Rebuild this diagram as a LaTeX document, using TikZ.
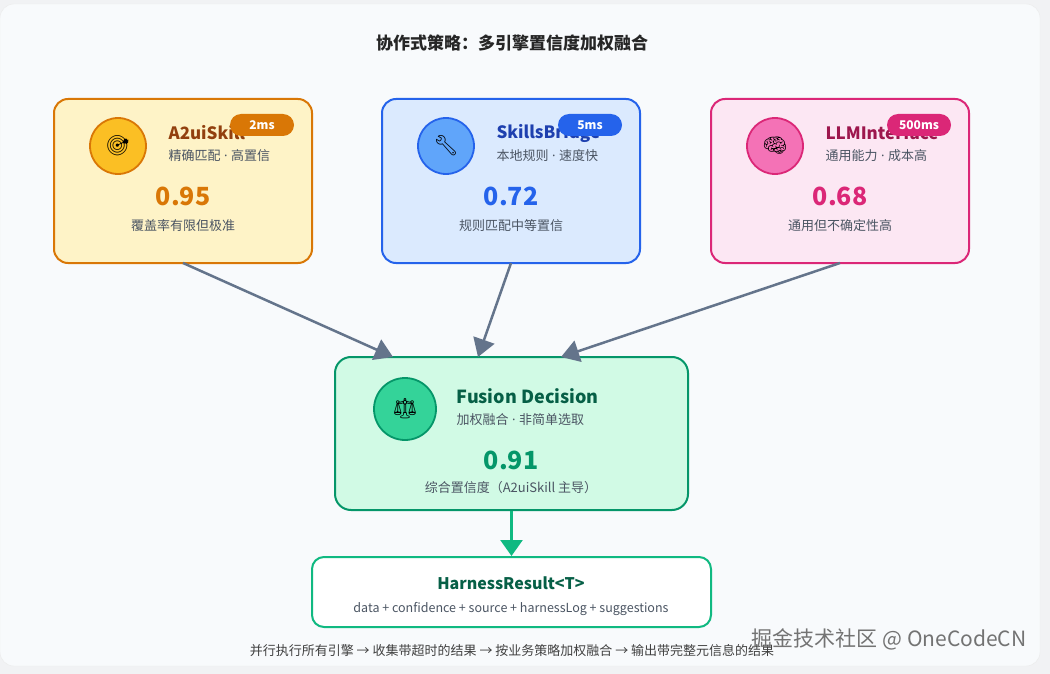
\documentclass[tikz,border=0pt]{standalone}
\usepackage{fontspec}
\setmainfont{Noto Sans CJK SC}
\newfontfamily\emo{Noto Emoji}
\newfontfamily\lat{Noto Sans}
\newcommand{\md}{\hspace{3.5pt}{\lat·}\hspace{3.5pt}}
\usetikzlibrary{arrows.meta}
\definecolor{pagebg}{HTML}{F1F2F4}
\definecolor{cardbg}{HTML}{F8FAFC}
\definecolor{txtgray}{HTML}{4B5563}
\definecolor{arrgray}{HTML}{64748B}
\definecolor{org}{HTML}{D97706}
\definecolor{orgfill}{HTML}{FEF3C7}
\definecolor{orgtxt}{HTML}{92400E}
\definecolor{orgicon}{HTML}{FBBF24}
\definecolor{blu}{HTML}{2563EB}
\definecolor{blufill}{HTML}{DBEAFE}
\definecolor{blutxt}{HTML}{1E40AF}
\definecolor{bluicon}{HTML}{60A5FA}
\definecolor{pnk}{HTML}{DB2777}
\definecolor{pnkfill}{HTML}{FCE7F3}
\definecolor{pnktxt}{HTML}{9D174D}
\definecolor{pnkicon}{HTML}{F472B6}
\definecolor{grn}{HTML}{059669}
\definecolor{grnfill}{HTML}{D1FAE5}
\definecolor{grntxt}{HTML}{065F46}
\definecolor{grnicon}{HTML}{34D399}
\definecolor{grn2}{HTML}{10B981}
\tikzset{
 card/.style={draw,line width=2pt,rounded corners=14pt,minimum width=258pt,minimum height=164pt,inner sep=0pt},
 icon/.style={circle,draw,line width=1.8pt,minimum size=56pt,inner sep=0pt,font=\emo\fontsize{20}{20}\selectfont},
 ttl/.style={anchor=west,font=\bfseries\fontsize{17}{17}\selectfont},
 sub/.style={anchor=west,text=txtgray,font=\fontsize{13}{13}\selectfont},
 val/.style={font=\bfseries\fontsize{25}{25}\selectfont},
 desc/.style={text=txtgray,font=\fontsize{13}{13}\selectfont},
 badge/.style={rounded corners=11pt,minimum width=64pt,minimum height=22pt,inner sep=0pt,text=white,font=\bfseries\fontsize{12}{12}\selectfont},
 flow/.style={draw=arrgray,line width=2.5pt,-{Triangle[length=18pt,width=22pt]}},
}
\begin{document}
\begin{tikzpicture}[x=1pt,y=-1pt]
\useasboundingbox (0,0) rectangle (1050,674);
\fill[pagebg] (0,0) rectangle (1050,674);
\node[draw=black!8,fill=cardbg,rounded corners=14pt,minimum width=1040pt,minimum height=662pt,inner sep=0pt] (bg) at (520,335) {};
\node[font=\bfseries\fontsize{17}{17}\selectfont,text=black!85] (title) at (512,43) {协作式策略：多引擎置信度加权融合};
% box 1
\node[card,draw=org,fill=orgfill] (b1) at (183,181) {};
\node[icon,draw=org,fill=orgicon] (i1) at (118,146) {🎯};
\node[ttl,text=orgtxt] (t1) at (165,133) {A2uiSkill};
\node[badge,fill=org] (g1) at (262,125) {2ms};
\node[sub] (s1) at (165,156) {精确匹配\md 高置信};
\node[val,text=org] (v1) at (183,196) {0.95};
\node[desc] (d1) at (183,226) {覆盖率有限但极准};
% box 2
\node[card,draw=blu,fill=blufill] (b2) at (511,181) {};
\node[icon,draw=blu,fill=bluicon] (i2) at (446,146) {🔧};
\node[ttl,text=blutxt] (t2) at (493,133) {SkillsBridge};
\node[badge,fill=blu] (g2) at (590,125) {5ms};
\node[sub] (s2) at (493,156) {本地规则\md 速度快};
\node[val,text=blu] (v2) at (511,196) {0.72};
\node[desc] (d2) at (511,226) {规则匹配中等置信};
% box 3
\node[card,draw=pnk,fill=pnkfill] (b3) at (840,181) {};
\node[icon,draw=pnk,fill=pnkicon] (i3) at (775,146) {🧠};
\node[ttl,text=pnktxt] (t3) at (822,133) {LLMInterface};
\node[badge,fill=pnk] (g3) at (919,125) {500ms};
\node[sub] (s3) at (822,156) {通用能力\md 成本高};
\node[val,text=pnk] (v3) at (840,196) {0.68};
\node[desc] (d3) at (840,226) {通用但不确定性高};
% fusion
\node[card,draw=grn,fill=grnfill,minimum width=353pt,minimum height=153pt,rounded corners=16pt] (f) at (511.5,433.5) {};
\node[icon,draw=grn,fill=grnicon,minimum size=62pt] (fi) at (405,409) {⚖};
\node[ttl,text=grntxt,font=\bfseries\fontsize{18}{18}\selectfont] (ft) at (453,396) {Fusion Decision};
\node[sub] (fs) at (453,420) {加权融合\md 非简单选取};
\node[val,text=grn] (fv) at (511,460) {0.91};
\node[desc] (fd) at (511,488) {综合置信度（A2uiSkill 主导）};
% result
\node[draw=grn2,line width=2pt,fill=white,rounded corners=12pt,minimum width=399pt,minimum height=70pt,inner sep=0pt] (r) at (511.5,592) {};
\node[font=\bfseries\fontsize{16}{16}\selectfont,text=grntxt] (rt) at (511,583) {HarnessResult<T>};
\node[desc,font=\fontsize{12.5}{12.5}\selectfont] (rs) at (511,609) {data + confidence + source + harnessLog + suggestions};
% arrows
\coordinate (a1) at (183,263); \coordinate (e1) at (393,357);
\coordinate (a2) at (511,263); \coordinate (e2) at (478,357);
\coordinate (a3) at (840,263); \coordinate (e3) at (561,357);
\draw[flow] (a1) -- (e1);
\draw[flow] (a2) -- (e2);
\draw[flow] (a3) -- (e3);
\draw[draw=grn2,line width=2.5pt,-{Triangle[length=16pt,width=22pt]}] (f.south) -- (r.north);
\node[text=black!75,font=\fontsize{13}{13}\selectfont] (foot) at (512,651) {并行执行所有引擎 → 收集带超时的结果 → 按业务策略加权融合 → 输出带完整元信息的结果};
\node[text=black!55,font=\fontsize{21}{21}\selectfont,anchor=east] (wm) at (1030,639) {掘金技术社区 @ OneCodeCN};
\end{tikzpicture}
\end{document}
